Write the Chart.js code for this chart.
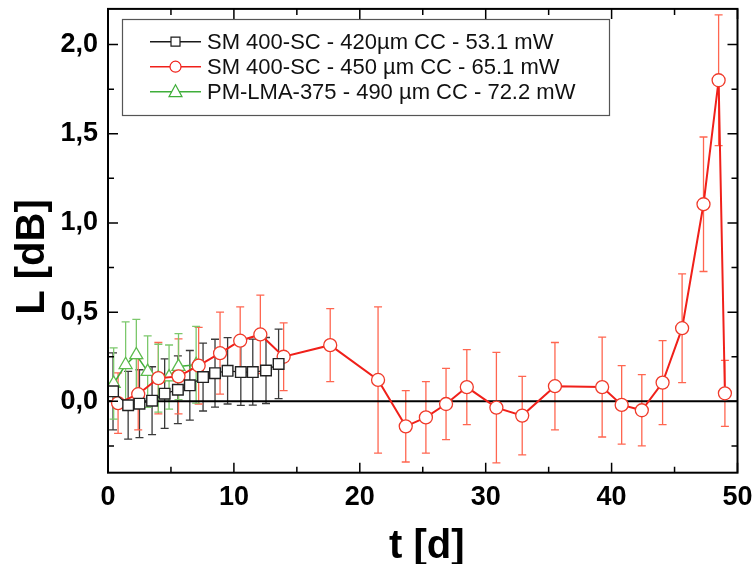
<!DOCTYPE html>
<html>
<head>
<meta charset="utf-8">
<script src="https://cdn.jsdelivr.net/npm/chart.js@4.4.1/dist/chart.umd.min.js"></script>
<style>
  html, body { margin: 0; padding: 0; background: #fff; }
  canvas { display: block; }
</style>
</head>
<body>
<canvas id="chart" width="753" height="564"></canvas>
<script>
// axis ticks
const xTicks = [0, 10, 20, 30, 40, 50];
const yTicks = [0, 0.5, 1.0, 1.5, 2.0];

// SM 400-SC - 420um
const blackT = [0.4, 1.6, 2.5, 3.5, 4.5, 5.55, 6.5, 7.55, 8.5, 9.5, 10.55, 11.5, 12.55, 13.55];
const blackL = [0.056, -0.022, -0.013, 0.004, 0.043, 0.065, 0.09, 0.136, 0.158, 0.171, 0.164, 0.164, 0.173, 0.21];
const blackErr = [0.216, 0.19, 0.19, 0.19, 0.195, 0.19, 0.195, 0.19, 0.19, 0.186, 0.187, 0.185, 0.185, 0.195];

// SM 400-SC - 450um
const redT = [0.8, 2.4, 4.0, 5.6, 7.2, 8.9, 10.5, 12.1, 13.95, 17.65, 21.45, 23.65, 25.25, 26.85, 28.5,
  30.85, 32.9, 35.5, 39.25, 40.8, 42.4, 44.05, 45.6, 47.3, 48.5, 49.0];
const redL = [-0.01, 0.04, 0.13, 0.14, 0.2, 0.27, 0.34, 0.375, 0.25, 0.315, 0.12, -0.14, -0.09, -0.015, 0.08,
  -0.035, -0.08, 0.085, 0.08, -0.02, -0.05, 0.105, 0.41, 1.105, 1.8, 0.045];
const redErr = [0.17, 0.2, 0.2, 0.21, 0.215, 0.23, 0.19, 0.22, 0.19, 0.205, 0.41, 0.2, 0.2, 0.2, 0.21,
  0.31, 0.22, 0.245, 0.28, 0.22, 0.2, 0.235, 0.305, 0.377, 0.367, 0.185];

// PM-LMA-375 - 490um
const greenT = [0.45, 1.4, 2.25, 3.15, 4.0, 4.85, 5.6, 7.0];
const greenL = [0.1, 0.205, 0.26, 0.167, 0.13, 0.136, 0.195, 0.205];
const greenErr = [0.2, 0.24, 0.2, 0.2, 0.19, 0.18, 0.185, 0.215];

const labels = [
  'SM 400-SC - 420\u00b5m CC - 53.1 mW',
  'SM 400-SC - 450 \u00b5m CC - 65.1 mW',
  'PM-LMA-375 - 490 \u00b5m CC - 72.2 mW'
];

function points(ts, ls) {
  return ts.map((t, i) => ({ x: t, y: ls[i] }));
}

const FONT = "'Liberation Sans', Arial, sans-serif";

// error bars, drawn under the markers
const errorBars = {
  id: 'errorBars',
  beforeDatasetsDraw(chart) {
    const ctx = chart.ctx;
    const xs = chart.scales.x, ys = chart.scales.y;
    const a = chart.chartArea;
    ctx.save();
    ctx.beginPath();
    ctx.rect(a.left, a.top, a.right - a.left, a.bottom - a.top);
    ctx.clip();
    chart.data.datasets.forEach(ds => {
      ctx.strokeStyle = ds.errColor;
      ctx.lineWidth = 1.3;
      ds.data.forEach((p, i) => {
        const px = xs.getPixelForValue(p.x);
        const top = ys.getPixelForValue(p.y + ds.err[i]);
        const bot = ys.getPixelForValue(p.y - ds.err[i]);
        ctx.beginPath();
        ctx.moveTo(px, top); ctx.lineTo(px, bot);
        ctx.moveTo(px - 4, top); ctx.lineTo(px + 4, top);
        ctx.moveTo(px - 4, bot); ctx.lineTo(px + 4, bot);
        ctx.stroke();
      });
    });
    // zero line
    const y0 = ys.getPixelForValue(0);
    ctx.strokeStyle = '#000';
    ctx.lineWidth = 2;
    ctx.beginPath();
    ctx.moveTo(a.left, y0); ctx.lineTo(a.right, y0);
    ctx.stroke();
    ctx.restore();
  }
};

// frame, inward ticks, axis titles and legend box
const frame = {
  id: 'frame',
  afterDraw(chart) {
    const ctx = chart.ctx;
    const a = chart.chartArea;
    const xs = chart.scales.x, ys = chart.scales.y;
    ctx.save();
    ctx.strokeStyle = '#000';
    ctx.lineWidth = 2;
    ctx.strokeRect(a.left, a.top, a.right - a.left, a.bottom - a.top);

    ctx.lineWidth = 1.5;
    ctx.beginPath();
    for (let i = 0; i < xTicks.length; i++) {
      const px = xs.getPixelForValue(xTicks[i]);
      ctx.moveTo(px, a.bottom); ctx.lineTo(px, a.bottom - 10);
      ctx.moveTo(px, a.top); ctx.lineTo(px, a.top + 10);
      if (i < xTicks.length - 1) {
        const mx = xs.getPixelForValue((xTicks[i] + xTicks[i + 1]) / 2);
        ctx.moveTo(mx, a.bottom); ctx.lineTo(mx, a.bottom - 6);
        ctx.moveTo(mx, a.top); ctx.lineTo(mx, a.top + 6);
      }
    }
    // y minor ticks every 0.25 across the whole range
    for (let v = -0.25; v <= 2.2; v += 0.25) {
      const py = ys.getPixelForValue(v);
      const major = Math.abs(v * 2 - Math.round(v * 2)) < 1e-6;
      const len = major ? 10 : 6;
      ctx.moveTo(a.left, py); ctx.lineTo(a.left + len, py);
      ctx.moveTo(a.right, py); ctx.lineTo(a.right - len, py);
    }
    ctx.stroke();

    // axis titles
    ctx.fillStyle = '#000';
    ctx.font = 'bold 40px ' + FONT;
    ctx.textAlign = 'center';
    ctx.textBaseline = 'middle';
    ctx.fillText('t [d]', (a.left + a.right) / 2 + 4, 547);
    ctx.save();
    ctx.translate(33, 257);
    ctx.rotate(-Math.PI / 2);
    ctx.fillText('L [dB]', 0, 0);
    ctx.restore();

    // legend
    ctx.fillStyle = '#fff';
    ctx.fillRect(122, 19, 487, 96);
    ctx.strokeStyle = '#555';
    ctx.lineWidth = 1.2;
    ctx.strokeRect(122.5, 19.5, 487, 96);
    ctx.font = '22px ' + FONT;
    ctx.textAlign = 'left';
    chart.data.datasets.forEach((ds, i) => {
      const y = 41.7 + i * 25;
      ctx.strokeStyle = ds.borderColor;
      ctx.lineWidth = 1.6;
      ctx.beginPath();
      ctx.moveTo(150, y); ctx.lineTo(201, y);
      ctx.stroke();
      ctx.fillStyle = '#fff';
      ctx.lineWidth = 1.2;
      ctx.beginPath();
      if (ds.pointStyle === 'rect') {
        ctx.rect(171, y - 4.5, 9, 9);
      } else if (ds.pointStyle === 'circle') {
        ctx.arc(175.5, y, 5.5, 0, Math.PI * 2);
      } else {
        ctx.moveTo(175.5, y - 7); ctx.lineTo(182, y + 5); ctx.lineTo(169, y + 5); ctx.closePath();
      }
      ctx.fill();
      ctx.stroke();
      ctx.fillStyle = '#111';
      ctx.fillText(ds.label, 207, y + 1);
    });
    ctx.restore();
  }
};

new Chart(document.getElementById('chart'), {
  type: 'scatter',
  data: {
    datasets: [
      {
        label: labels[0],
        data: points(blackT, blackL),
        err: blackErr,
        errColor: '#3a3a3a',
        showLine: true,
        borderColor: '#1a1a1a',
        borderWidth: 1.2,
        pointStyle: 'rect',
        pointRadius: 7.5,
        pointBackgroundColor: '#fff',
        pointBorderColor: '#222',
        pointBorderWidth: 1.4
      },
      {
        label: labels[1],
        data: points(redT, redL),
        err: redErr,
        errColor: '#ff6650',
        showLine: true,
        borderColor: '#f0201a',
        borderWidth: 2,
        pointStyle: 'circle',
        pointRadius: 6.5,
        pointBackgroundColor: '#fff',
        pointBorderColor: '#f03a2a',
        pointBorderWidth: 1.3
      },
      {
        label: labels[2],
        data: points(greenT, greenL),
        err: greenErr,
        errColor: '#7cc86c',
        showLine: true,
        borderColor: '#3fae3a',
        borderWidth: 1.5,
        pointStyle: 'triangle',
        pointRadius: 7.5,
        pointBackgroundColor: '#fff',
        pointBorderColor: '#5cbb4e',
        pointBorderWidth: 1.3
      }
    ]
  },
  options: {
    responsive: false,
    animation: false,
    layout: { padding: { top: 5, right: 15.5, left: 0, bottom: 0 } },
    plugins: { legend: { display: false }, tooltip: { enabled: false } },
    scales: {
      x: {
        type: 'linear',
        min: 0,
        max: 50,
        grid: { display: false, drawTicks: false },
        border: { display: false },
        afterBuildTicks: s => { s.ticks = xTicks.map(v => ({ value: v })); },
        afterFit: s => { s.height = 91.3; s.paddingLeft = 0; s.paddingRight = 0; },
        ticks: { color: '#000', padding: 9, font: { family: FONT, size: 27, weight: 'bold' } }
      },
      y: {
        min: -0.4,
        max: 2.2,
        grid: { display: false, drawTicks: false },
        border: { display: false },
        afterBuildTicks: s => { s.ticks = yTicks.map(v => ({ value: v })); },
        afterFit: s => { s.width = 108; s.paddingTop = 0; s.paddingBottom = 0; },
        ticks: {
          color: '#000',
          padding: 10,
          font: { family: FONT, size: 27, weight: 'bold' },
          callback: v => v.toFixed(1).replace('.', ',')
        }
      }
    }
  },
  plugins: [errorBars, frame]
});
</script>
</body>
</html>
